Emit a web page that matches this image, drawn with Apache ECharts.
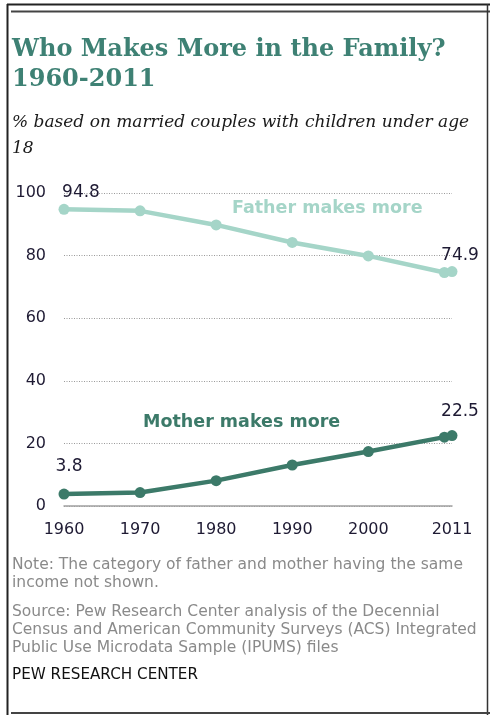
<!DOCTYPE html>
<html><head><meta charset="utf-8">
<script src="https://cdn.jsdelivr.net/npm/echarts@6/dist/echarts.min.js"></script>
<style>html,body{margin:0;padding:0;background:#fff}#c{width:490px;height:715px}</style>
</head><body><div id="c"></div>
<script>
var years = [1960, 1970, 1980, 1990, 2000, 2010, 2011];
var fatherMore = [94.8, 94.3, 89.8, 84.2, 79.9, 74.6, 74.9];
var motherMore = [3.8, 4.3, 8.1, 13.1, 17.4, 22.0, 22.5];
var xTickLabels = [1960, 1970, 1980, 1990, 2000, 2011];
var yTicks = [0, 20, 40, 60, 80, 100];

var fatherColor = '#a5d5c8', motherColor = '#3c7a69';
function pts(vals, labelIdx, labelCfg) {
  return years.map(function (y, i) {
    var d = { value: [y, vals[i]] };
    var li = labelIdx.indexOf(i);
    if (li >= 0) d.label = Object.assign({ show: true }, labelCfg[li]);
    return d;
  });
}
var lblBase = { color: '#1e1a33', fontFamily: 'DejaVu Sans', fontSize: 17, formatter: function (p) { return p.value[1].toFixed(1); } };
var chart = echarts.init(document.getElementById('c'));
chart.setOption({
  animation: false,
  grid: { left: 64, right: 38, top: 193, bottom: 209 },
  xAxis: {
    type: 'value', min: 1960, max: 2011,
    axisLine: { show: true, onZero: true, lineStyle: { color: '#a0a0a0', width: 1.5 } },
    axisTick: { show: false }, splitLine: { show: false },
    axisLabel: { customValues: xTickLabels, formatter: function (v) { return String(v); }, margin: 16, color: '#1e1a33', fontFamily: 'DejaVu Sans', fontSize: 16 }
  },
  yAxis: {
    type: 'value', min: 0, max: 100, interval: 20,
    axisLine: { show: false }, axisTick: { show: false },
    axisLabel: { margin: 18, color: '#1e1a33', fontFamily: 'DejaVu Sans', fontSize: 16 },
    splitLine: { show: true, lineStyle: { color: '#9a9a9a', type: [1, 1.5], width: 1 } }
  },
  series: [
    {
      type: 'line', data: pts(fatherMore, [0, 6], [
        Object.assign({ position: 'top', offset: [17, 2] }, lblBase),
        Object.assign({ position: 'top', offset: [8, 3] }, lblBase)
      ]),
      symbol: 'circle', symbolSize: 11,
      lineStyle: { color: fatherColor, width: 4.5 }, itemStyle: { color: fatherColor },
      label: { show: false }
    },
    {
      type: 'line', data: pts(motherMore, [0, 6], [
        Object.assign({ position: 'top', offset: [5, -9] }, lblBase),
        Object.assign({ position: 'top', offset: [8, -5] }, lblBase)
      ]),
      symbol: 'circle', symbolSize: 11,
      lineStyle: { color: motherColor, width: 4.5 }, itemStyle: { color: motherColor },
      label: { show: false }
    }
  ],
  graphic: [
    { type: 'line', shape: { x1: 7, y1: 4.5, x2: 490, y2: 4.5 }, style: { stroke: '#222', lineWidth: 2 } },
    { type: 'line', shape: { x1: 11, y1: 11.5, x2: 490, y2: 11.5 }, style: { stroke: '#444', lineWidth: 2 } },
    { type: 'line', shape: { x1: 7.5, y1: 4, x2: 7.5, y2: 715 }, style: { stroke: '#222', lineWidth: 2 } },
    { type: 'line', shape: { x1: 487.5, y1: 4, x2: 487.5, y2: 715 }, style: { stroke: '#333', lineWidth: 1.5 } },
    { type: 'line', shape: { x1: 11, y1: 713, x2: 490, y2: 713 }, style: { stroke: '#444', lineWidth: 2 } },
    { type: 'text', left: 12, top: 35, style: { text: 'Who Makes More in the Family?\n1960-2011', fill: '#3e8174', font: 'bold 24px "DejaVu Serif"', lineHeight: 30 } },
    { type: 'text', left: 12, top: 110, style: { text: '% based on married couples with children under age\n18', fill: '#1a1a1a', font: 'italic 17px "DejaVu Serif"', lineHeight: 26 } },
    { type: 'text', left: 232, top: 199, style: { text: 'Father makes more', fill: fatherColor, font: 'bold 17.5px "DejaVu Sans"' } },
    { type: 'text', left: 143, top: 413, style: { text: 'Mother makes more', fill: motherColor, font: 'bold 17.5px "DejaVu Sans"' } },
    { type: 'text', left: 12, top: 556, style: { text: 'Note: The category of father and mother having the same\nincome not shown.', fill: '#8a8a8a', font: '15.5px "DejaVu Sans"', lineHeight: 18 } },
    { type: 'text', left: 12, top: 603, style: { text: 'Source: Pew Research Center analysis of the Decennial\nCensus and American Community Surveys (ACS) Integrated\nPublic Use Microdata Sample (IPUMS) files', fill: '#8a8a8a', font: '15.5px "DejaVu Sans"', lineHeight: 18 } },
    { type: 'text', left: 12, top: 668, style: { text: 'PEW RESEARCH CENTER', fill: '#111', font: '15.2px "DejaVu Sans"' } }
  ]
});
</script></body></html>
